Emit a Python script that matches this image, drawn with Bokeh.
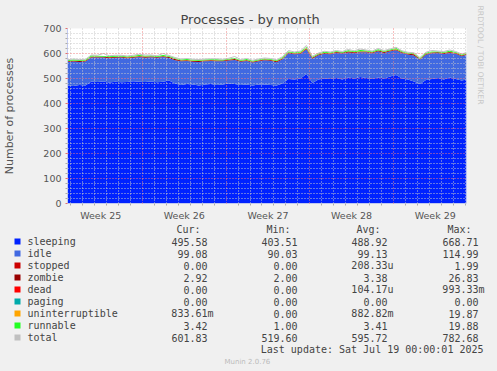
from bokeh.plotting import figure
from bokeh.layouts import column
from bokeh.models import ColumnDataSource, FixedTicker, Range1d, Title
from bokeh.core.properties import value
from bokeh.embed import file_html
from bokeh.resources import INLINE

# ---------------- data ----------------
# time axis: days since the left edge of the graph (half-day samples)
days = [i * 0.5 for i in range(67)] + [33.4]

sleeping = [472, 470, 474, 472,
            488, 486, 488, 484, 487, 485, 486, 489, 487, 486, 488, 485, 487,
            492, 480, 474, 478, 476, 472, 476, 478, 474, 476, 480, 478, 474, 476, 472, 476, 476,
            474, 472, 480, 498, 496, 500, 518, 482, 496, 500, 498, 502, 496, 504, 500, 506, 502,
            498, 504, 500, 508, 514, 500, 496, 488, 478, 494, 498, 502, 496, 504, 498, 492,
            496]
idle = [94, 98, 92, 96,
        96, 98, 96, 97, 96, 99, 95, 94, 99, 97, 97, 98, 99,
        90, 93, 95, 92, 91, 94, 93, 92, 95, 93, 92, 96, 93, 94, 92, 93, 97,
        97, 93, 97, 103, 101, 99, 99, 97, 97, 99, 99, 101, 104, 100, 102, 99, 103,
        103, 105, 102, 101, 99, 102, 100, 104, 97, 101, 103, 100, 102, 99, 101, 97,
        99]
stopped = [0] * 68
zombie = [3, 3, 4, 3,
          3, 3, 3, 4, 3, 3, 3, 3, 3, 4, 3, 3, 3,
          4, 5, 3, 3, 3, 4, 3, 3, 3, 3, 3, 4, 3, 3, 3, 3, 3,
          3, 4, 3, 3, 3, 3, 3, 4, 3, 3, 3, 3, 3, 4, 3, 3, 3,
          3, 3, 4, 3, 3, 3, 3, 5, 3, 3, 3, 3, 4, 3, 3, 3,
          3]
dead = [0] * 68
paging = [0] * 68
uninterruptible = [1, 1, 1, 1,
                   1, 1, 0, 1, 1, 1, 1, 2, 1, 1, 1, 0, 1,
                   1, 1, 1, 1, 2, 1, 1, 1, 1, 0, 1, 1, 1, 1, 1, 1, 1,
                   1, 1, 1, 1, 1, 2, 3, 1, 1, 1, 1, 1, 0, 1, 1, 1, 1,
                   1, 1, 1, 1, 2, 1, 1, 1, 1, 1, 1, 0, 1, 1, 1, 1,
                   1]
runnable = [3, 4, 3, 3,
            4, 3, 3, 3, 4, 3, 3, 3, 4, 3, 3, 3, 4,
            3, 3, 3, 4, 3, 3, 3, 3, 4, 3, 3, 3, 3, 4, 3, 3, 3,
            3, 3, 4, 3, 3, 4, 3, 3, 3, 4, 3, 3, 3, 4, 3, 5, 3,
            3, 4, 3, 3, 4, 3, 3, 3, 3, 4, 3, 3, 3, 4, 3, 3,
            3]
total = [575, 578, 576, 577,
         594, 593, 600, 591, 593, 593, 590, 593, 597, 594, 594, 591, 600,
         592, 584, 578, 580, 577, 576, 578, 579, 579, 577, 581, 588, 576, 580, 573, 578, 582,
         580, 575, 587, 612, 606, 610, 632, 589, 602, 609, 606, 612, 608, 616, 611, 618, 614,
         610, 620, 612, 618, 625, 611, 605, 603, 584, 605, 612, 610, 608, 614, 608, 598,
         604]

series = ["sleeping", "idle", "stopped", "zombie", "dead", "paging", "uninterruptible", "runnable"]
series_colors = ["#0022ff", "#4169e1", "#cc0000", "#990000", "#ff0000", "#00aaaa", "#ffa500", "#22ff22"]
legend_names = series + ["total"]
legend_colors = series_colors + ["#c0c0c0"]

cur_vals = ["495.58", "99.08", "0.00", "2.92", "0.00", "0.00", "833.61m", "3.42", "601.83"]
min_vals = ["403.51", "90.03", "0.00", "2.00", "0.00", "0.00", "0.00", "1.00", "519.60"]
avg_vals = ["488.92", "99.13", "208.33u", "3.38", "104.17u", "0.00", "882.82m", "3.41", "595.72"]
max_vals = ["668.71", "114.99", "1.99", "26.83", "993.33m", "0.00", "19.87", "19.88", "782.68"]
headers = ["Cur:", "Min:", "Avg:", "Max:"]

y_ticks = [0, 100, 200, 300, 400, 500, 600, 700]
week_labels = ["Week 25", "Week 26", "Week 27", "Week 28", "Week 29"]
week_bounds = [6.28, 13.28, 20.28, 27.28]          # week starts (days)
week_mid = [2.78, 9.78, 16.78, 23.78, 30.78]        # label positions (days)

title = "Processes - by month"
y_title = "Number of processes"
last_update = "Last update: Sat Jul 19 00:00:01 2025"
version = "Munin 2.0.76"
watermark = "RRDTOOL / TOBI OETIKER"

BG = "#f0f0f0"
MONO = value("DejaVu Sans Mono")

# ---------------- main chart ----------------
X0, X1 = 0, 33.4
Y0, Y1 = 0, 700
p = figure(frame_width=399, frame_height=175,
           x_range=Range1d(X0, X1), y_range=Range1d(Y0, Y1),
           output_backend="svg", toolbar_location=None,
           min_border_left=67, min_border_right=31, min_border_top=28, min_border_bottom=19,
           background_fill_color="white", border_fill_color=BG, outline_line_color=None)

src = ColumnDataSource(data=dict(day=days, sleeping=sleeping, idle=idle, stopped=stopped,
                                 zombie=zombie, dead=dead, paging=paging,
                                 uninterruptible=uninterruptible, runnable=runnable, total=total))
p.varea_stack(stackers=series, x="day", color=series_colors, source=src)
p.line("day", "total", color="#c0c0c0", line_width=1, source=src)

day_minor = [round(week_bounds[0] - 6 + k, 2) for k in range(34)]
day_minor = [d for d in day_minor if d not in week_bounds and X0 < d < X1]
y_minor = [v for v in range(0, 701, 20) if v % 100 != 0]

# grids drawn over the data, like rrdtool
p.xgrid.ticker = FixedTicker(ticks=week_bounds, minor_ticks=day_minor)
p.ygrid.ticker = FixedTicker(ticks=y_ticks, minor_ticks=y_minor)
for g in (p.xgrid[0], p.ygrid[0]):
    g.level = "overlay"
    g.grid_line_color = "#f08080"
    g.grid_line_dash = "1 2"
    g.grid_line_width = 1
    g.minor_grid_line_color = "#c8c8c8"
    g.minor_grid_line_dash = "1 2"
    g.minor_grid_line_width = 1

axis_col = "#c0c8f0"
xa = p.xaxis[0]
xa.ticker = FixedTicker(ticks=week_mid, minor_ticks=day_minor)
xa.major_label_overrides = {m: l for m, l in zip(week_mid, week_labels)}
xa.axis_line_color = axis_col
xa.major_tick_line_color = None
xa.major_tick_out = 0
xa.major_tick_in = 0
xa.minor_tick_out = 2
xa.minor_tick_in = 0
xa.minor_tick_line_color = "#aaaaaa"
xa.major_label_standoff = 4
xa.major_label_text_font = "DejaVu Sans"
xa.major_label_text_font_size = "9.5px"
xa.major_label_text_color = "#555555"

ya = p.yaxis[0]
ya.ticker = FixedTicker(ticks=y_ticks, minor_ticks=y_minor)
ya.axis_line_color = axis_col
ya.major_tick_line_color = "#e07070"
ya.major_tick_out = 2
ya.major_tick_in = 0
ya.minor_tick_line_color = "#aaaaaa"
ya.minor_tick_out = 2
ya.minor_tick_in = 0
ya.major_label_standoff = 4
ya.major_label_text_font = "DejaVu Sans"
ya.major_label_text_font_size = "9.5px"
ya.major_label_text_color = "#555555"
ya.axis_label = y_title
ya.axis_label_text_font = "DejaVu Sans"
ya.axis_label_text_font_size = "11px"
ya.axis_label_text_font_style = "normal"
ya.axis_label_text_color = "#555555"
ya.axis_label_standoff = 24

p.title.text = title
p.title.align = "left"
p.title.offset = 113
p.title.standoff = 4
p.title.text_font = "DejaVu Sans"
p.title.text_font_size = "13px"
p.title.text_font_style = "normal"
p.title.text_color = "#444444"

p.add_layout(Title(text=watermark, align="left", offset=-23, standoff=19,
                   text_font="DejaVu Sans", text_font_size="7.7px", text_font_style="normal",
                   text_color="#c8c8c8"), "right")

# ---------------- legend block (page coordinates) ----------------
TOP = 222
H = 371
leg = figure(width=497, height=H - TOP, x_range=Range1d(0, 497), y_range=Range1d(H, TOP),
             output_backend="svg", toolbar_location=None, min_border=0,
             x_axis_location=None, y_axis_location=None,
             background_fill_color=BG, border_fill_color=BG, outline_line_color=None)
leg.grid.visible = False
for fig in (p, leg):
    try:
        fig.frame_align = False
    except Exception:
        pass

col_end = [207, 297, 387, 478]
row_y = [240 + 12 * k for k in range(len(legend_names))]

# colour squares
leg.quad(left=[14] * len(row_y), right=[20] * len(row_y),
         top=[y - 3 for y in row_y], bottom=[y + 3 for y in row_y],
         fill_color=legend_colors, line_color=None)

# names
leg.text(x=[27] * len(row_y), y=row_y, text=legend_names, text_font=MONO, text_font_size="10px",
         text_color="#444444", text_align="left", text_baseline="middle")

# value columns
vx, vy, vt = [], [], []
for vals, c in zip((cur_vals, min_vals, avg_vals, max_vals), col_end):
    for s, yy in zip(vals, row_y):
        vx.append(c + (6 if s[-1].isalpha() else 0))
        vy.append(yy)
        vt.append(s)
for h, c in zip(headers, col_end):
    vx.append(c - 7)
    vy.append(228)
    vt.append(h)
vx.append(483)
vy.append(348)
vt.append(last_update)
leg.text(x=vx, y=vy, text=vt, text_font=MONO, text_font_size="10px",
         text_color="#444444", text_align="right", text_baseline="middle")

leg.text(x=[224], y=[360], text=[version], text_font=value("DejaVu Sans"), text_font_size="7px",
         text_color="#bbbbbb", text_align="left", text_baseline="middle")

layout = column(p, leg, spacing=0)
html = file_html(layout, INLINE)
html = html.replace("<body>", '<body style="background:#f0f0f0">')
open("out.html", "w").write(html)
